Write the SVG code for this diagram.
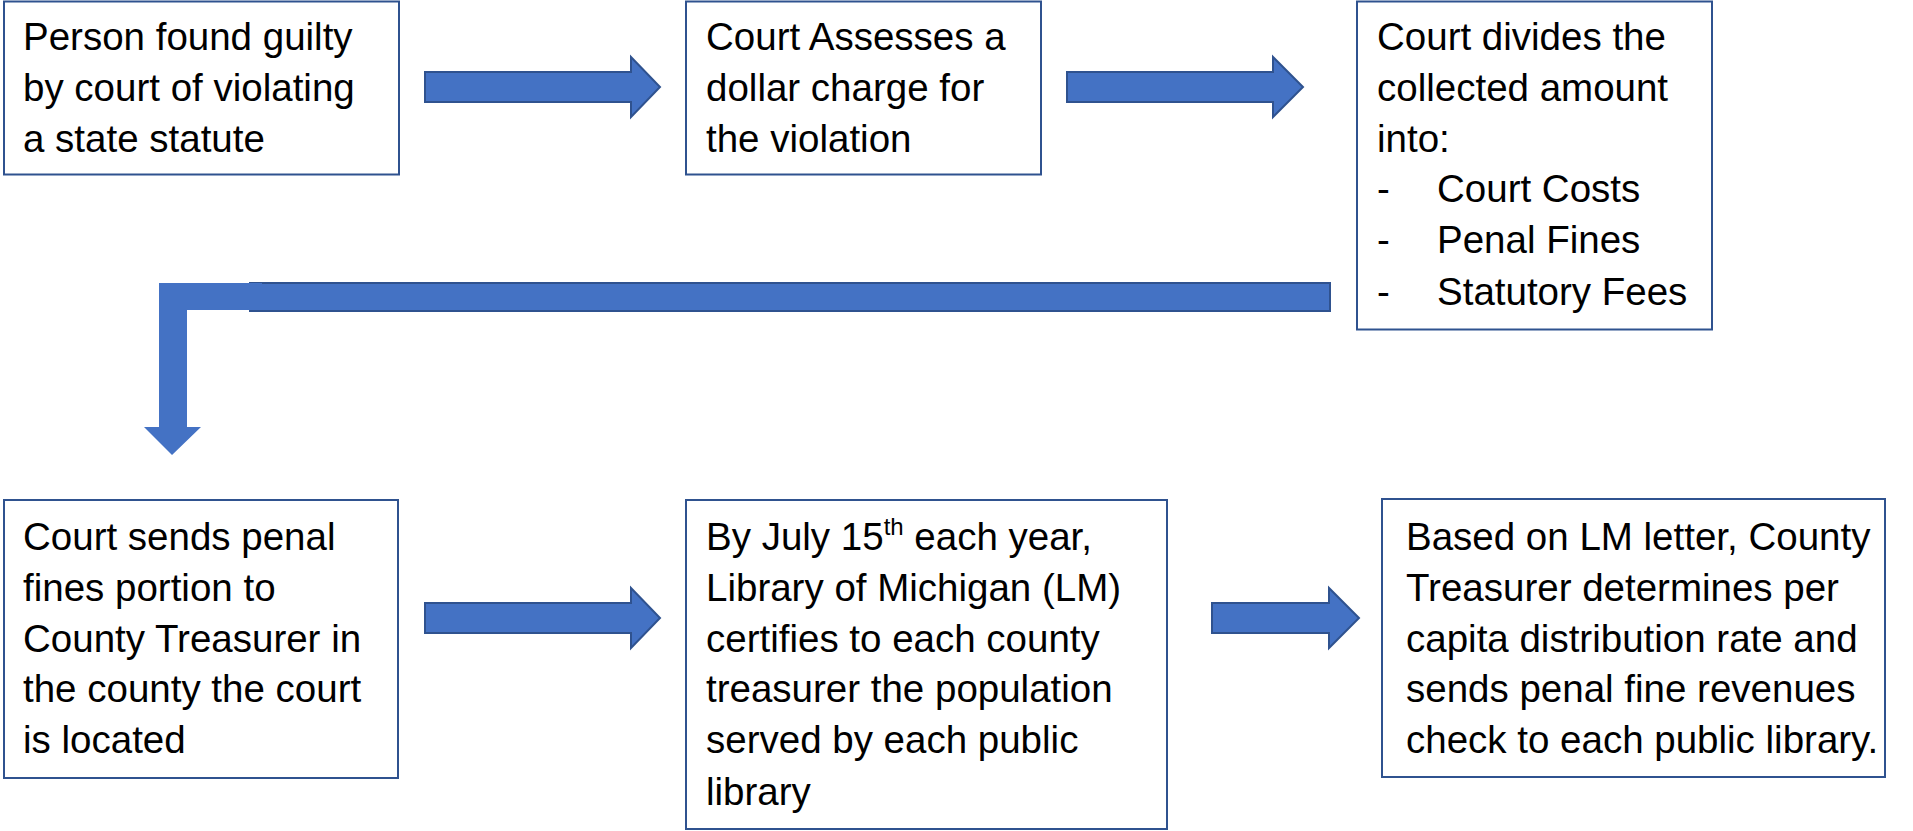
<svg xmlns="http://www.w3.org/2000/svg" width="1913" height="831" viewBox="0 0 1913 831">
<style>
.box{fill:#ffffff;stroke:#2F528F;stroke-width:2}
.arr{fill:#4472C4;stroke:#2F528F;stroke-width:2}
.arrn{fill:#4472C4;stroke:none}
text{font-family:"Liberation Sans",Arial,sans-serif;font-size:38.5px;fill:#000000}
.sup{font-size:24px}
</style>
<rect width="1913" height="831" fill="#ffffff"/>
<g id="connectors">
<polygon class="arr" points="425,72 631,72 631,57 660,87 631,117 631,102 425,102"/>
<polygon class="arr" points="1067,72 1273,72 1273,57 1303,87 1273,117 1273,102 1067,102"/>
<rect class="arr" x="250" y="283" width="1080" height="28"/>
<polygon class="arrn" points="159,283 262,283 262,310 187,310 187,427 201,427 172,455 144,427 159,427"/>
<polygon class="arr" points="425,603 631,603 631,588 660,618 631,648 631,633 425,633"/>
<polygon class="arr" points="1212,603 1329,603 1329,588 1359,618 1329,648 1329,633 1212,633"/>
</g>
<g id="node1">
<rect class="box" x="4" y="1.5" width="395" height="173"/>
<text x="23" y="50">Person found guilty</text>
<text x="23" y="101">by court of violating</text>
<text x="23" y="152">a state statute</text>
</g>
<g id="node2">
<rect class="box" x="686" y="1.5" width="355" height="173"/>
<text x="706" y="50">Court Assesses a</text>
<text x="706" y="101">dollar charge for</text>
<text x="706" y="152">the violation</text>
</g>
<g id="node3">
<rect class="box" x="1357" y="1.5" width="355" height="328"/>
<text x="1377" y="50">Court divides the</text>
<text x="1377" y="101">collected amount</text>
<text x="1377" y="152">into:</text>
<text x="1377" y="202">-</text><text x="1437" y="202">Court Costs</text>
<text x="1377" y="253">-</text><text x="1437" y="253">Penal Fines</text>
<text x="1377" y="305">-</text><text x="1437" y="305">Statutory Fees</text>
</g>
<g id="node4">
<rect class="box" x="4" y="500" width="394" height="278"/>
<text x="23" y="550">Court sends penal</text>
<text x="23" y="601">fines portion to</text>
<text x="23" y="652">County Treasurer in</text>
<text x="23" y="702">the county the court</text>
<text x="23" y="753">is located</text>
</g>
<g id="node5">
<rect class="box" x="686" y="500" width="481" height="329"/>
<text x="706" y="550">By July 15<tspan class="sup" dy="-15">th</tspan><tspan dy="15"> each year,</tspan></text>
<text x="706" y="601">Library of Michigan (LM)</text>
<text x="706" y="652">certifies to each county</text>
<text x="706" y="702">treasurer the population</text>
<text x="706" y="753">served by each public</text>
<text x="706" y="805">library</text>
</g>
<g id="node6">
<rect class="box" x="1382" y="499" width="503" height="278"/>
<text x="1406" y="550">Based on LM letter, County</text>
<text x="1406" y="601">Treasurer determines per</text>
<text x="1406" y="652">capita distribution rate and</text>
<text x="1406" y="702">sends penal fine revenues</text>
<text x="1406" y="753">check to each public library.</text>
</g>
</svg>
